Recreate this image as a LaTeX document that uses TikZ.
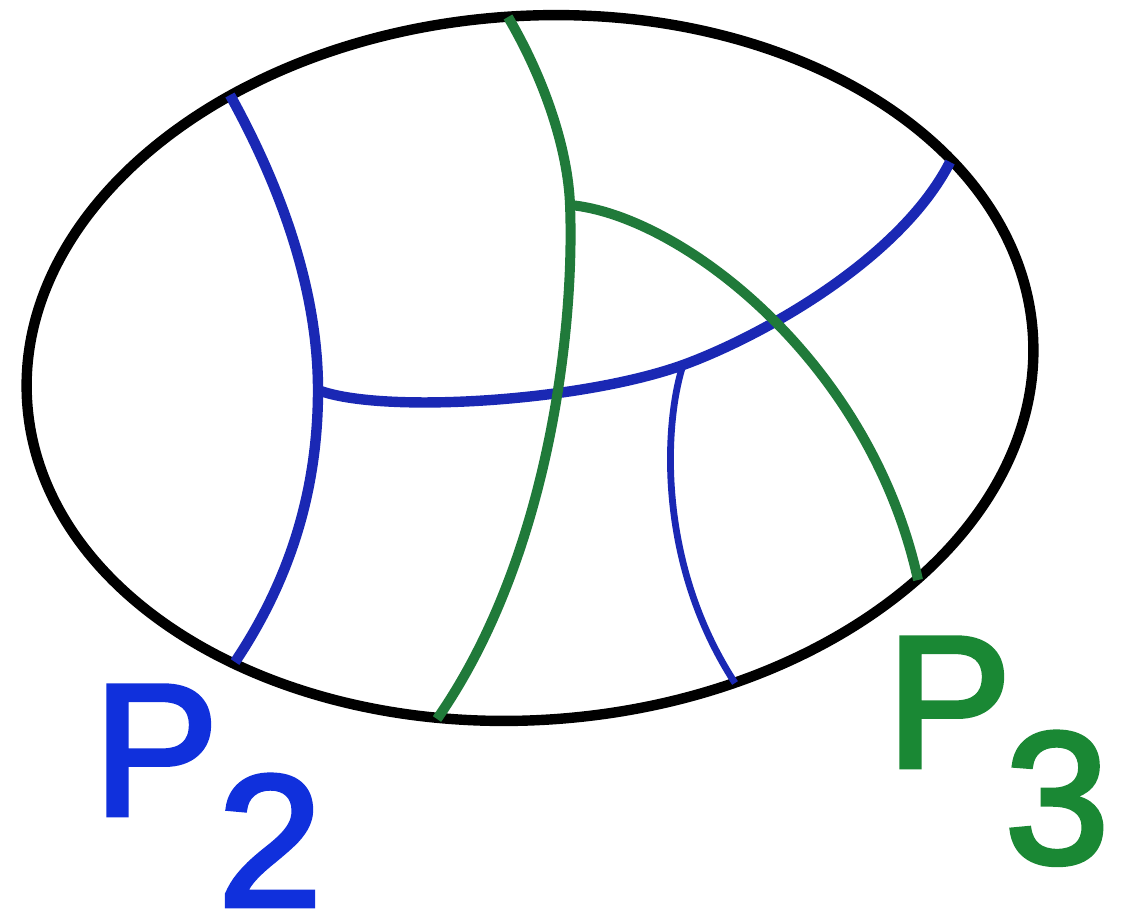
\documentclass[tikz,border=0pt]{standalone}
\usepackage{fontspec}
\setmainfont{Liberation Sans}
\newfontfamily\labfont[FakeBold=2.5]{Liberation Sans}
\definecolor{lineblue}{RGB}{26,40,180}
\definecolor{textblue}{RGB}{16,48,220}
\definecolor{linegreen}{RGB}{32,122,58}
\definecolor{textgreen}{RGB}{26,136,52}
\begin{document}
\begin{tikzpicture}[x=0.5pt,y=-0.5pt,
  rim/.style={draw=black,line width=5.2pt},
  bluecurve/.style={draw=lineblue,line width=5.2pt},
  thinblue/.style={draw=lineblue,line width=3.4pt},
  greencurve/.style={draw=linegreen,line width=5pt},
  lab/.style={inner sep=0pt,anchor=base,font=\labfont\fontsize{94}{94}\selectfont}]
\useasboundingbox (0,0) rectangle (1127,917);
% centre of the oval
\coordinate (C) at (530,368);
% end points on the oval and junctions
\coordinate (B1t) at (230,95);
\coordinate (B1b) at (235,662);
\coordinate (J1) at (318,390);
\coordinate (J2) at (683,365);
\coordinate (B2e) at (950,162);
\coordinate (B3b) at (735,683);
\coordinate (G1t) at (508,17);
\coordinate (G1b) at (437,719);
\coordinate (J3) at (570,205);
\coordinate (G2e) at (918,580);
% oval
\draw[rim, rotate around={4:(C)}] (C) ellipse [x radius=504, y radius=352];
% blue curves
\draw[bluecurve] (B1t) .. controls (288,200) and (318,300) .. (J1)
                       .. controls (318,490) and (290,580) .. (B1b);
\draw[bluecurve] (J1) .. controls (380,414) and (580,402) .. (J2)
                      .. controls (760,337) and (900,260) .. (B2e);
\draw[thinblue] (J2) .. controls (665,420) and (655,560) .. (B3b);
% green curves
\draw[greencurve] (G1t) .. controls (545,80) and (568,150) .. (J3)
                        .. controls (575,330) and (548,560) .. (G1b);
\draw[greencurve] (J3) .. controls (680,215) and (870,360) .. (G2e);
% labels
\node[lab,text=textblue] (P2) at (156,815) {P};
\node[lab,text=textblue] (s2) at (270,906) {2};
\node[lab,text=textgreen] (P3) at (949,767) {P};
\node[lab,text=textgreen] (s3) at (1057,863) {3};
\end{tikzpicture}
\end{document}
